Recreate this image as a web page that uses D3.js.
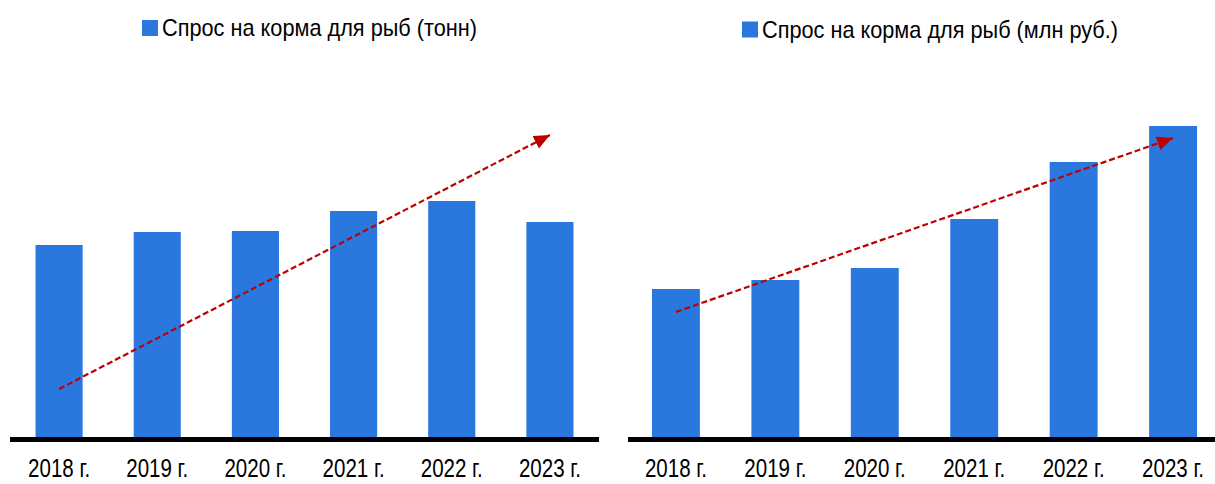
<!DOCTYPE html>
<html>
<head>
<meta charset="utf-8">
<script src="https://cdn.jsdelivr.net/npm/d3@7"></script>
<style>
  body { margin: 0; background: #fff; }
  svg { display: block; }
  text { font-family: "Liberation Sans", Arial, sans-serif; fill: #000; }
</style>
</head>
<body>
<svg id="chart" width="1215" height="484"></svg>
<script>
// chart data
var years = ["2018 г.", "2019 г.", "2020 г.", "2021 г.", "2022 г.", "2023 г."];
var demandTons = [192, 205, 206, 226, 236, 215];
var demandRub = [148, 157, 169, 218, 275, 311];
// trend arrow: value at first and last category
var trendTons = [48, 302];
var trendRub = [125, 299];
var legendTons = "Спрос на корма для рыб (тонн)";
var legendRub = "Спрос на корма для рыб (млн руб.)";

var barColor = "#2a78dd";
var arrowColor = "#c00000";

var svg = d3.select("#chart");

svg.append("defs").append("marker")
  .attr("id", "arrowhead")
  .attr("viewBox", "0 0 16 14")
  .attr("refX", 16)
  .attr("refY", 7)
  .attr("markerUnits", "userSpaceOnUse")
  .attr("markerWidth", 16)
  .attr("markerHeight", 14)
  .attr("orient", "auto")
  .append("path")
  .attr("d", "M0,0L16,7L0,14Z")
  .attr("fill", arrowColor);

function drawPanel(opts) {
  var g = svg.append("g");

  var x = d3.scaleBand()
    .domain(years)
    .range(opts.xRange)
    .paddingInner(opts.padInner)
    .paddingOuter(opts.padOuter);

  var y = d3.scaleLinear()
    .domain([0, 300])
    .range([437, 137]);

  // bars
  g.selectAll(".bar")
    .data(opts.values)
    .enter().append("rect")
    .attr("class", "bar")
    .attr("x", function(d, i) { return x(years[i]); })
    .attr("width", x.bandwidth())
    .attr("y", function(d) { return y(d); })
    .attr("height", function(d) { return y(0) - y(d); })
    .attr("fill", barColor);

  // baseline
  g.append("line")
    .attr("x1", opts.xRange[0])
    .attr("x2", opts.xRange[1])
    .attr("y1", y(0) + 2.5)
    .attr("y2", y(0) + 2.5)
    .attr("stroke", "#000")
    .attr("stroke-width", 5);

  // category labels
  g.selectAll(".year")
    .data(years)
    .enter().append("text")
    .attr("class", "year")
    .attr("x", function(d) { return x(d) + x.bandwidth() / 2; })
    .attr("y", 477)
    .attr("text-anchor", "middle")
    .attr("font-size", 25)
    .attr("textLength", 62)
    .attr("lengthAdjust", "spacingAndGlyphs")
    .text(function(d) { return d; });

  // dashed trend arrow
  var cx = function(i) { return x(years[i]) + x.bandwidth() / 2; };
  g.append("line")
    .attr("x1", cx(0))
    .attr("y1", y(opts.trend[0]))
    .attr("x2", cx(years.length - 1))
    .attr("y2", y(opts.trend[1]))
    .attr("stroke", arrowColor)
    .attr("stroke-width", 2.2)
    .attr("stroke-dasharray", "6,3")
    .attr("marker-end", "url(#arrowhead)");

  // legend
  var lg = g.append("g").attr("transform", "translate(" + opts.legendX + "," + opts.legendY + ")");
  lg.append("rect")
    .attr("width", 16)
    .attr("height", 16)
    .attr("fill", barColor);
  lg.append("text")
    .attr("x", 20)
    .attr("y", 16)
    .attr("font-size", 24)
    .attr("textLength", opts.legendLen)
    .attr("lengthAdjust", "spacingAndGlyphs")
    .text(opts.legend);
}

drawPanel({
  values: demandTons,
  trend: trendTons,
  xRange: [10, 599],
  padInner: 0.52,
  padOuter: 0.26,
  legend: legendTons,
  legendX: 142,
  legendY: 20,
  legendLen: 315
});

drawPanel({
  values: demandRub,
  trend: trendRub,
  xRange: [628, 1221],
  padInner: 0.518,
  padOuter: 0.241,
  legend: legendRub,
  legendX: 742,
  legendY: 21.5,
  legendLen: 356
});
</script>
</body>
</html>
